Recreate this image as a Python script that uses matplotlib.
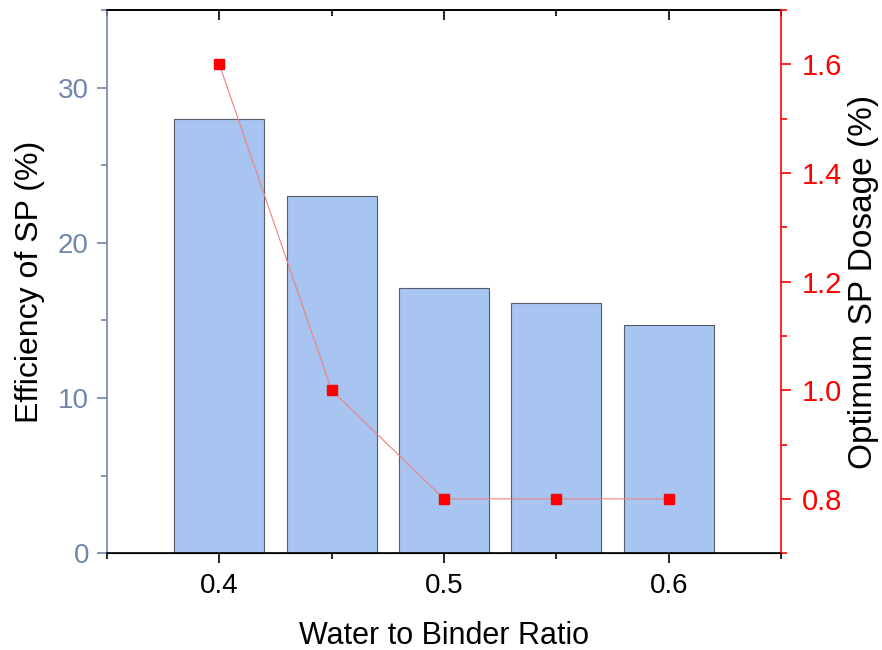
import matplotlib.pyplot as plt
from matplotlib.ticker import MultipleLocator

plt.rcParams['font.family'] = ['Liberation Sans', 'DejaVu Sans']

# data
wb_ratio = [0.40, 0.45, 0.50, 0.55, 0.60]
efficiency = [28.0, 23.0, 17.1, 16.1, 14.7]
opt_dosage = [1.6, 1.0, 0.8, 0.8, 0.8]

left_color = "#6f86ad"
bar_color = "#a8c4f0"

fig = plt.figure(figsize=(8.82, 6.5), dpi=100)
ax = fig.add_axes([0.1213, 0.149, 0.7642, 0.8356])

ax.bar(wb_ratio, efficiency, width=0.04, color=bar_color, edgecolor="#555d6a", linewidth=0.8, zorder=2)
ax.set_xlim(0.35, 0.65)
ax.set_ylim(0, 35)
ax.set_xticks([0.4, 0.5, 0.6])
ax.xaxis.set_minor_locator(MultipleLocator(0.05))
ax.yaxis.set_major_locator(MultipleLocator(10))
ax.yaxis.set_minor_locator(MultipleLocator(5))
ax.tick_params(axis="x", which="both", direction="out", bottom=True, top=False, labelsize=20, width=1.2)
ax.tick_params(axis="x", which="major", length=7, pad=7)
ax.tick_params(axis="x", which="minor", length=4)
ax.tick_params(axis="y", which="both", colors=left_color, labelsize=20, width=1.2)
ax.tick_params(axis="y", which="major", length=7, pad=6)
ax.tick_params(axis="y", which="minor", length=4)
ax.spines["left"].set_color(left_color)
ax.spines["right"].set_visible(False)
for s in ["left", "bottom", "top"]:
    ax.spines[s].set_linewidth(1.2)
ax.set_xlabel("Water to Binder Ratio", fontsize=22, labelpad=16)
ax.set_ylabel("Efficiency of SP (%)", fontsize=23, labelpad=9)

# top ticks pointing inward
top = ax.secondary_xaxis("top")
top.set_xticks([0.4, 0.5, 0.6])
top.xaxis.set_minor_locator(MultipleLocator(0.05))
top.tick_params(which="both", direction="in", labeltop=False, width=1.2)
top.tick_params(which="major", length=7)
top.tick_params(which="minor", length=4)
top.spines["top"].set_linewidth(1.2)

ax2 = ax.twinx()
ax2.plot(wb_ratio, opt_dosage, color="#f08080", linewidth=0.8, marker="s",
         markersize=7, markerfacecolor="red", markeredgecolor="red", zorder=3)
ax2.set_ylim(0.7, 1.7)
ax2.yaxis.set_major_locator(MultipleLocator(0.2))
ax2.yaxis.set_minor_locator(MultipleLocator(0.1))
ax2.yaxis.set_major_formatter(plt.FormatStrFormatter("%.1f"))
ax2.tick_params(axis="y", which="both", colors="red", labelsize=21, width=1.2)
ax2.tick_params(axis="y", which="major", length=7, pad=8)
ax2.tick_params(axis="y", which="minor", length=4)
ax2.spines["right"].set_color("red")
ax2.spines["right"].set_linewidth(1.2)
ax2.spines["left"].set_visible(False)
ax2.spines["top"].set_visible(False)
ax2.set_ylabel("Optimum SP Dosage (%)", fontsize=24, labelpad=4)

fig.savefig("out.png", dpi=100)
